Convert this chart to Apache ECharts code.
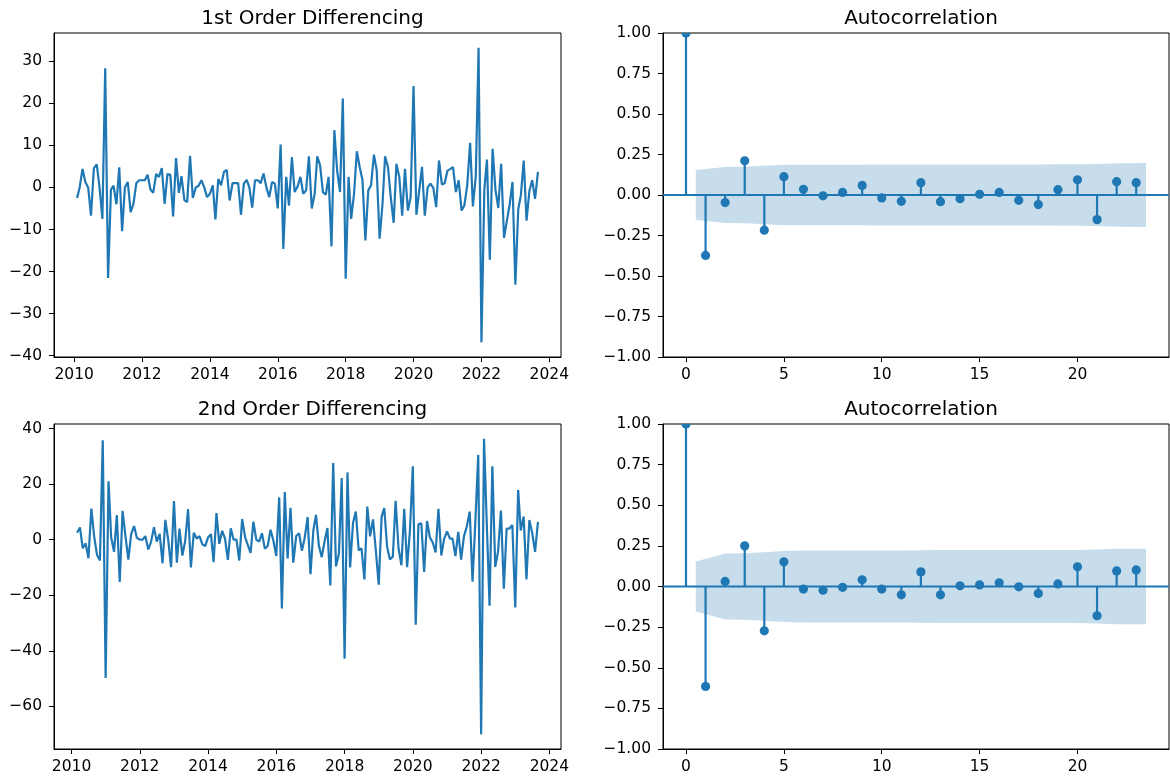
<!DOCTYPE html>
<html>
<head>
<meta charset="utf-8">
<script src="https://cdn.jsdelivr.net/npm/echarts@6/dist/echarts.min.js"></script>
<style>
  html, body { margin: 0; padding: 0; background: #fff; }
  #chart { width: 1170px; height: 783px; }
</style>
</head>
<body>
<div id="chart"></div>
<script>
// ---- data ----
// monthly series: first month [year, month]
const firstDiffStart = [2010, 2];
const firstDiff = [
  -2.5, 0.0, 4.4, 1.3, 0.0, -6.7, 4.5, 5.5, 0.0, -7.5,
  28.3, -21.5, -0.5, 0.4, -4.0, 4.8, -10.4, 0.0, 1.3, -5.9,
  -3.9, 1.0, 1.7, 1.7, 1.7, 3.0, -0.5, -1.3, 3.2, 2.5,
  4.6, -3.9, 3.2, 3.0, -6.9, 7.0, -1.3, 2.7, -3.0, -3.5,
  7.5, -2.5, 0.0, 0.4, 1.7, 0.0, -2.3, -1.5, 0.5, -7.6,
  2.0, 0.5, 3.7, 4.2, -3.1, 1.0, 1.0, 1.0, -6.5, 0.9,
  1.8, 0.0, -4.8, 1.7, 1.7, 1.0, 3.3, 0.0, -2.3, 1.3,
  0.9, -5.0, 10.2, -14.6, 2.5, -4.3, 7.2, -1.1, 0.2, 2.5,
  -1.5, -0.7, 7.4, -5.0, -1.5, 7.4, 5.2, -1.1, -1.7, 2.5,
  -14.0, 13.6, 4.0, -1.1, 21.1, -21.7, 2.5, -7.5, -1.5, 8.6,
  4.8, 1.7, -12.6, -0.7, 0.5, 7.8, 4.0, -12.2, -4.0, 7.4,
  4.8, -2.3, -8.4, 5.6, 2.5, -6.7, 4.4, -5.5, -2.3, 24.1,
  -6.5, -1.0, 4.9, -6.7, 0.0, 0.9, -0.1, -4.7, 6.4, 0.7,
  1.0, 4.0, 4.4, 4.8, -1.1, 1.7, -5.5, -4.3, 0.5, 10.6,
  -4.5, 2.7, 33.2, -36.8, -0.5, 6.6, -17.2, 9.2, -0.6, -4.9,
  5.6, -12.0, -8.0, -4.0, 1.3, -23.1, -5.2, -1.9, 6.4, -7.9,
  -0.8, 1.7, -2.7, 3.7
];

const secondDiffStart = [2010, 3];
const secondDiff = [
  2.5, 4.4, -3.1, -1.3, -6.7, 11.2, 1.0, -5.5, -7.5, 35.8,
  -49.8, 21.0, 0.9, -4.4, 8.8, -15.2, 10.4, 1.3, -7.2, 2.0,
  4.9, 0.7, 0.0, 0.0, 1.3, -3.5, -0.8, 4.5, -0.7, 2.1,
  -8.5, 7.1, -0.2, -9.9, 13.9, -8.3, 4.0, -5.7, -0.5, 11.0,
  -10.0, 2.5, 0.4, 1.3, -1.7, -2.3, 0.8, 2.0, -8.1, 9.6,
  -1.5, 3.2, 0.5, -7.3, 4.1, 0.0, 0.0, -7.5, 7.4, 0.9,
  -1.8, -4.8, 6.5, 0.0, -0.7, 2.3, -3.3, -2.3, 3.6, -0.4,
  -5.9, 15.2, -24.8, 17.1, -6.8, 11.5, -8.3, 1.3, 2.3, -4.0,
  0.8, 8.1, -12.4, 3.5, 8.9, -2.2, -6.3, -0.6, 4.2, -16.5,
  27.6, -9.6, -5.1, 22.2, -42.8, 24.2, -10.0, 6.0, 10.1, -3.8,
  -3.1, -14.3, 11.9, 1.2, 7.3, -3.8, -16.2, 8.2, 11.4, -2.6,
  -7.1, -6.1, 14.0, -3.1, -9.2, 11.1, -9.9, 3.2, 26.4, -30.6,
  5.5, 5.9, -11.6, 6.7, 0.9, -1.0, -4.6, 11.1, -5.7, 0.3,
  3.0, 0.4, 0.4, -5.9, 2.8, -7.2, 1.2, 4.8, 10.1, -15.1,
  7.2, 30.5, -70.0, 36.3, 7.1, -23.8, 26.4, -9.8, -4.3, 10.5,
  -17.6, 4.0, 4.0, 5.3, -24.4, 17.9, 3.3, 8.3, -14.3, 7.1,
  2.5, -4.4, 6.4
];

// autocorrelation by lag and half-width of the shaded 95% band (lags 1..23)
const acfLags = [0,1,2,3,4,5,6,7,8,9,10,11,12,13,14,15,16,17,18,19,20,21,22,23];
const acfFirst = [
  1.00, -0.373, -0.047, 0.211, -0.217, 0.113, 0.035, -0.005, 0.016, 0.059,
  -0.018, -0.039, 0.076, -0.041, -0.023, 0.004, 0.016, -0.033, -0.059, 0.033,
  0.094, -0.152, 0.082, 0.076
];
const acfFirstBand = [
  0.154, 0.173, 0.174, 0.180, 0.186, 0.187, 0.187, 0.187, 0.187, 0.188,
  0.188, 0.188, 0.189, 0.189, 0.189, 0.189, 0.189, 0.189, 0.190, 0.190,
  0.191, 0.196, 0.197
];
const acfSecond = [
  1.00, -0.615, 0.031, 0.250, -0.273, 0.152, -0.016, -0.023, -0.005, 0.041,
  -0.016, -0.051, 0.090, -0.051, 0.004, 0.010, 0.023, -0.002, -0.043, 0.016,
  0.121, -0.180, 0.096, 0.102
];
const acfSecondBand = [
  0.154, 0.203, 0.204, 0.211, 0.219, 0.221, 0.221, 0.221, 0.221, 0.222,
  0.222, 0.223, 0.224, 0.225, 0.225, 0.225, 0.225, 0.225, 0.225, 0.225,
  0.227, 0.232, 0.233
];

// tick labels
const yearTicks = [2010, 2012, 2014, 2016, 2018, 2020, 2022, 2024];
const firstTicks = [-40, -30, -20, -10, 0, 10, 20, 30];
const secondTicks = [-60, -40, -20, 0, 20, 40];
const acfYTicks = [-1, -0.75, -0.5, -0.25, 0, 0.25, 0.5, 0.75, 1];
const acfXTicks = [0, 5, 10, 15, 20];

const titles = ['1st Order Differencing', 'Autocorrelation', '2nd Order Differencing', 'Autocorrelation'];

// ---- helpers ----
const C0 = '#1f77b4';
const FONT = 'DejaVu Sans';
const TICK_FS = 15.5;

function monthStamps(start, n) {
  return Array.from({ length: n }, (_, i) => Date.UTC(start[0], start[1] - 1 + i, 1));
}
function padded(vals) {
  const lo = Math.min(...vals), hi = Math.max(...vals), d = (hi - lo) * 0.05;
  return [lo - d, hi + d];
}
const minus = s => String(s).replace('-', '\u2212');

const grids = [
  { left: 54, top: 33, width: 507, height: 324 },
  { left: 663, top: 33, width: 506, height: 324 },
  { left: 54, top: 424, width: 507, height: 325 },
  { left: 663, top: 424, width: 506, height: 325 }
];

function axisBase(gridIndex, min, max, ticks, fmt, margin) {
  return {
    type: 'value', gridIndex, min, max,
    axisLine: { show: true, onZero: false, lineStyle: { color: '#000', width: 1 } },
    axisTick: { show: true, inside: false, length: 5, customValues: ticks, lineStyle: { color: '#000', width: 1 } },
    axisLabel: {
      show: true, customValues: ticks, formatter: fmt, margin,
      color: '#000', fontSize: TICK_FS, fontFamily: FONT,
      showMinLabel: true, showMaxLabel: true
    },
    splitLine: { show: false }
  };
}

const firstX = monthStamps(firstDiffStart, firstDiff.length);
const secondX = monthStamps(secondDiffStart, secondDiff.length);
const yearStamps = yearTicks.map(y => Date.UTC(y, 0, 1));
const yearFmt = v => String(new Date(v).getUTCFullYear());

const xAxes = [], yAxes = [], series = [];

// time series panels
[[firstX, firstDiff, firstTicks, 0], [secondX, secondDiff, secondTicks, 2]].forEach(([xs, ys, ticks, g]) => {
  const [x0, x1] = padded(xs);
  const [y0, y1] = padded(ys);
  xAxes.push(axisBase(g, x0, x1, yearStamps, yearFmt, 10));
  yAxes.push(axisBase(g, y0, y1, ticks, v => minus(v), 12));
  series.push({
    type: 'line', xAxisIndex: xAxes.length - 1, yAxisIndex: yAxes.length - 1,
    data: xs.map((t, i) => [t, ys[i]]),
    showSymbol: false, symbol: 'none', clip: true,
    lineStyle: { color: C0, width: 2.2 }, itemStyle: { color: C0 },
    silent: true
  });
});

// autocorrelation panels
[[acfFirst, acfFirstBand, 1], [acfSecond, acfSecondBand, 3]].forEach(([acf, band, g]) => {
  const bandLags = acfLags.slice(1).map((l, i, a) => i === 0 ? l - 0.5 : (i === a.length - 1 ? l + 0.5 : l));
  const span = bandLags[bandLags.length - 1] - acfLags[0];
  const xmin = acfLags[0] - 0.05 * span, xmax = bandLags[bandLags.length - 1] + 0.05 * span;
  xAxes.push(axisBase(g, xmin, xmax, acfXTicks, v => String(v), 10));
  yAxes.push(axisBase(g, -1, 1, acfYTicks, v => minus(v.toFixed(2)), 12));
  const xi = xAxes.length - 1, yi = yAxes.length - 1;

  // horizontal zero line across the panel
  series.push({
    type: 'line', xAxisIndex: xi, yAxisIndex: yi, z: 2, silent: true,
    data: [[xmin, 0], [xmax, 0]], showSymbol: false, symbol: 'none',
    lineStyle: { color: C0, width: 2.2 }
  });
  // stems with round markers, clipped to the panel
  series.push({
    type: 'custom', xAxisIndex: xi, yAxisIndex: yi, z: 3, silent: true, clip: true,
    data: acfLags.map((l, i) => [l, acf[i]]),
    renderItem: (params, api) => {
      const a = api.coord([api.value(0), 0]);
      const b = api.coord([api.value(0), api.value(1)]);
      return {
        type: 'group',
        children: [
          { type: 'line', shape: { x1: a[0], y1: a[1], x2: b[0], y2: b[1] },
            style: { stroke: C0, lineWidth: 2.2 } },
          { type: 'circle', shape: { cx: b[0], cy: b[1], r: 4.6 }, style: { fill: C0 } }
        ]
      };
    }
  });
  // shaded confidence band
  series.push({
    type: 'custom', xAxisIndex: xi, yAxisIndex: yi, z: 5, silent: true, clip: true,
    data: [[0, 0]],
    renderItem: (params, api) => {
      const pts = [];
      bandLags.forEach((x, i) => pts.push(api.coord([x, band[i]])));
      for (let i = bandLags.length - 1; i >= 0; i--) pts.push(api.coord([bandLags[i], -band[i]]));
      return { type: 'polygon', shape: { points: pts }, style: { fill: 'rgba(31,119,180,0.25)' } };
    }
  });
});

const option = {
  animation: false,
  backgroundColor: '#fff',
  title: titles.map((t, i) => ({
    text: t,
    left: grids[i].left + grids[i].width / 2,
    textAlign: 'center',
    top: i < 2 ? 4 : 395,
    textStyle: { fontFamily: FONT, fontSize: 20, fontWeight: 'normal', color: '#000' }
  })),
  grid: grids.map(g => Object.assign({ show: true, borderColor: '#000', borderWidth: 1,
    backgroundColor: 'transparent', containLabel: false, outerBoundsMode: 'none' }, g)),
  xAxis: xAxes,
  yAxis: yAxes,
  series
};

const chart = echarts.init(document.getElementById('chart'), null, { renderer: 'canvas' });
chart.setOption(option);
</script>
</body>
</html>
